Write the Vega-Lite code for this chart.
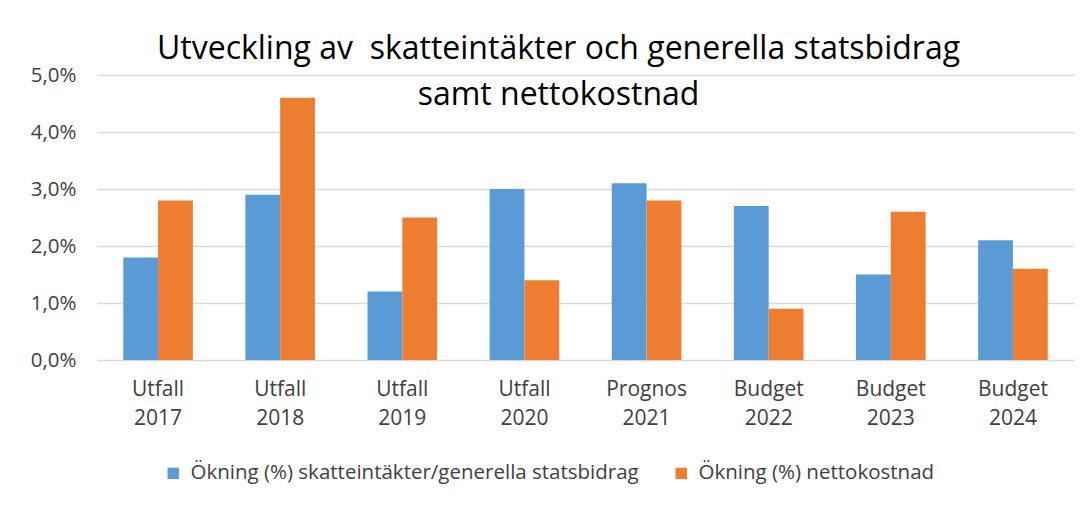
{
  "$schema": "https://vega.github.io/schema/vega-lite/v6.json",
  "autosize": "none",
  "width": 977,
  "height": 285,
  "padding": {"left": 97, "top": 75, "right": 17, "bottom": 146},
  "background": "white",
  "data": {
    "values": [
      {"period": "Utfall 2017", "serie": "Ökning (%) skatteintäkter/generella statsbidrag", "value": 1.8},
      {"period": "Utfall 2017", "serie": "Ökning (%) nettokostnad", "value": 2.8},
      {"period": "Utfall 2018", "serie": "Ökning (%) skatteintäkter/generella statsbidrag", "value": 2.9},
      {"period": "Utfall 2018", "serie": "Ökning (%) nettokostnad", "value": 4.6},
      {"period": "Utfall 2019", "serie": "Ökning (%) skatteintäkter/generella statsbidrag", "value": 1.2},
      {"period": "Utfall 2019", "serie": "Ökning (%) nettokostnad", "value": 2.5},
      {"period": "Utfall 2020", "serie": "Ökning (%) skatteintäkter/generella statsbidrag", "value": 3.0},
      {"period": "Utfall 2020", "serie": "Ökning (%) nettokostnad", "value": 1.4},
      {"period": "Prognos 2021", "serie": "Ökning (%) skatteintäkter/generella statsbidrag", "value": 3.1},
      {"period": "Prognos 2021", "serie": "Ökning (%) nettokostnad", "value": 2.8},
      {"period": "Budget 2022", "serie": "Ökning (%) skatteintäkter/generella statsbidrag", "value": 2.7},
      {"period": "Budget 2022", "serie": "Ökning (%) nettokostnad", "value": 0.9},
      {"period": "Budget 2023", "serie": "Ökning (%) skatteintäkter/generella statsbidrag", "value": 1.5},
      {"period": "Budget 2023", "serie": "Ökning (%) nettokostnad", "value": 2.6},
      {"period": "Budget 2024", "serie": "Ökning (%) skatteintäkter/generella statsbidrag", "value": 2.1},
      {"period": "Budget 2024", "serie": "Ökning (%) nettokostnad", "value": 1.6}
    ]
  },
  "title": {
    "text": ["Utveckling av\u00a0 skatteintäkter och generella statsbidrag", "samt nettokostnad"],
    "anchor": "middle",
    "frame": "group",
    "offset": -47,
    "font": "Open Sans",
    "fontSize": 32,
    "fontWeight": "normal",
    "color": "#000000",
    "lineHeight": 46,
    "dx": -27
  },
  "mark": {"type": "bar"},
  "encoding": {
    "x": {
      "field": "period",
      "type": "nominal",
      "sort": null,
      "scale": {"paddingInner": 0.43, "paddingOuter": 0.215},
      "axis": {
        "title": null,
        "labelAngle": 0,
        "labelExpr": "split(datum.label, ' ')",
        "labelFont": "Open Sans",
        "labelFontSize": 21,
        "labelColor": "#404040",
        "labelLineHeight": 29,
        "labelPadding": 18,
        "domain": false,
        "ticks": false
      }
    },
    "xOffset": {
      "field": "serie",
      "type": "nominal",
      "sort": ["Ökning (%) skatteintäkter/generella statsbidrag", "Ökning (%) nettokostnad"]
    },
    "y": {
      "field": "value",
      "type": "quantitative",
      "scale": {"domain": [0, 5]},
      "axis": {
        "title": null,
        "values": [0, 1, 2, 3, 4, 5],
        "labelExpr": "replace(format(datum.value, '.1f'), '.', ',') + '%'",
        "labelFont": "Open Sans",
        "labelFontSize": 20.5,
        "labelColor": "#404040",
        "labelPadding": 21,
        "domain": false,
        "ticks": false,
        "grid": true,
        "gridColor": "#D9D9D9",
        "gridWidth": 1.5
      }
    },
    "color": {
      "field": "serie",
      "type": "nominal",
      "sort": ["Ökning (%) skatteintäkter/generella statsbidrag", "Ökning (%) nettokostnad"],
      "scale": {
        "domain": ["Ökning (%) skatteintäkter/generella statsbidrag", "Ökning (%) nettokostnad"],
        "range": ["#5B9BD5", "#ED7D31"]
      },
      "legend": {
        "title": null,
        "orient": "none",
        "legendX": 66,
        "legendY": 388,
        "direction": "horizontal",
        "symbolType": "square",
        "symbolSize": 130,
        "symbolStrokeWidth": 0,
        "labelFont": "Open Sans",
        "labelFontSize": 20.5,
        "labelColor": "#404040",
        "labelLimit": 0,
        "columnPadding": 32,
        "labelOffset": 7
      }
    }
  },
  "config": {"view": {"stroke": null}}
}
